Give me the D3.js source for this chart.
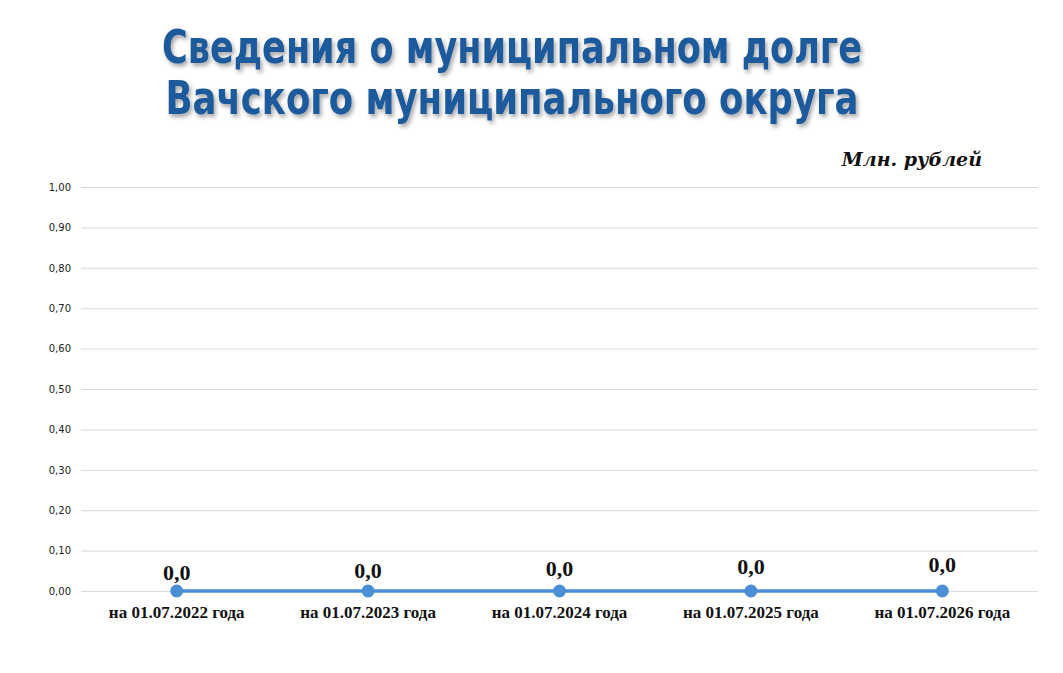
<!DOCTYPE html>
<html>
<head>
<meta charset="utf-8">
<script src="https://cdn.jsdelivr.net/npm/d3@7"></script>
<style>
  body { margin: 0; background: #fff; }
  .grid line { stroke: #d9d9d9; }
  .grid path { display: none; }
  .yaxis text { font-family: "DejaVu Sans", Verdana, sans-serif; font-size: 10px; fill: #222; }
  .xlabel { font-family: "Liberation Serif", "Times New Roman", serif; font-weight: bold; font-size: 17px; fill: #111; }
  .vlabel { font-family: "Liberation Serif", "Times New Roman", serif; font-weight: bold; font-size: 22px; fill: #111; }
</style>
</head>
<body>
<script>
const categories = ['на 01.07.2022 года', 'на 01.07.2023 года', 'на 01.07.2024 года', 'на 01.07.2025 года', 'на 01.07.2026 года'];
const debt = [0, 0, 0, 0, 0];
const yTicks = [0, 0.1, 0.2, 0.3, 0.4, 0.5, 0.6, 0.7, 0.8, 0.9, 1.0];
const titleLines = ['Сведения о муниципальном долге', 'Вачского муниципального округа'];
const unitLabel = 'Млн. рублей';

const width = 1063;
const height = 673;
const plotLeft = 81, plotRight = 1038, plotTop = 187, plotBottom = 591;

const data = categories.map((c, i) => ({ cat: c, value: debt[i] }));

const svg = d3.select('body').append('svg')
              .attr('width', width)
              .attr('height', height);

const defs = svg.append('defs');
const shadow = defs.append('filter').attr('id', 'shadow')
  .attr('x', '-5%').attr('y', '-20%').attr('width', '110%').attr('height', '150%');
shadow.append('feDropShadow')
  .attr('dx', 2).attr('dy', 3).attr('stdDeviation', 2)
  .attr('flood-color', '#000').attr('flood-opacity', 0.35);

const xScale = d3.scalePoint().domain(categories).range([plotLeft, plotRight]).padding(0.5);
const yScale = d3.scaleLinear().domain([0, 1]).range([plotBottom, plotTop]);
const fmtTick = (d) => d3.format('.2f')(d).replace('.', ',');
const fmtVal = (d) => d3.format('.1f')(d).replace('.', ',');

svg.append('g')
  .attr('class', 'grid')
  .attr('transform', `translate(${plotLeft}, 0)`)
  .call(d3.axisLeft(yScale).tickValues(yTicks).tickSize(-(plotRight - plotLeft)).tickFormat(''));

svg.append('g')
  .attr('class', 'yaxis')
  .attr('transform', `translate(${plotLeft}, 0)`)
  .call(d3.axisLeft(yScale).tickValues(yTicks).tickSize(0).tickPadding(10).tickFormat(fmtTick))
  .call((g) => g.select('.domain').remove());

svg.append('g')
  .selectAll('text')
  .data(categories)
  .enter()
  .append('text')
  .attr('class', 'xlabel')
  .attr('x', (d) => xScale(d))
  .attr('y', plotBottom + 27)
  .attr('text-anchor', 'middle')
  .text((d) => d);

const line = d3.line()
  .x((d) => xScale(d.cat))
  .y((d) => yScale(d.value));

svg.append('path')
  .datum(data)
  .attr('d', line)
  .attr('fill', 'none')
  .attr('stroke', '#4a8fd6')
  .attr('stroke-width', 3.5);

const pts = svg.append('g').selectAll('g')
  .data(data)
  .enter()
  .append('g');

pts.append('circle')
  .attr('cx', (d) => xScale(d.cat))
  .attr('cy', (d) => yScale(d.value))
  .attr('r', 6.5)
  .attr('fill', '#4a8fd6');

pts.append('text')
  .attr('class', 'vlabel')
  .attr('x', (d) => xScale(d.cat))
  .attr('y', (d, i) => yScale(d.value) - 11 - i * 2)
  .attr('text-anchor', 'middle')
  .text((d) => fmtVal(d.value));

// title, squeezed to the width of the original's condensed face
svg.append('g')
  .attr('filter', 'url(#shadow)')
  .selectAll('text')
  .data(titleLines)
  .enter()
  .append('text')
  .attr('x', 512)
  .attr('y', (d, i) => 63 + i * 51)
  .attr('text-anchor', 'middle')
  .attr('font-family', '"DejaVu Sans Condensed", "DejaVu Sans", sans-serif')
  .attr('font-weight', 'bold')
  .attr('font-size', 46)
  .attr('textLength', (d, i) => (i === 0 ? 700 : 693))
  .attr('lengthAdjust', 'spacingAndGlyphs')
  .attr('fill', '#1d5a9b')
  .text((d) => d);

svg.append('text')
  .attr('x', 982)
  .attr('y', 166)
  .attr('text-anchor', 'end')
  .attr('font-family', '"DejaVu Serif", "Liberation Serif", serif')
  .attr('font-weight', 'bold')
  .attr('font-style', 'italic')
  .attr('font-size', 19)
  .attr('fill', '#111')
  .text(unitLabel);
</script>
</body>
</html>
